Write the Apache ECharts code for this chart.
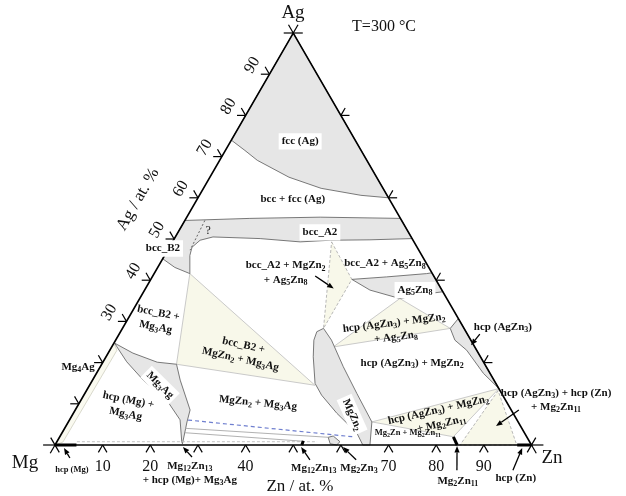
<!DOCTYPE html>
<html>
<head>
<meta charset="utf-8">
<script src="https://cdn.jsdelivr.net/npm/echarts@6/dist/echarts.min.js"></script>
<style>
  html, body { margin: 0; background: #fff; }
  #chart { width: 626px; height: 496px; }
</style>
</head>
<body>
<div id="chart"></div>
<script>
// all compositions are [Zn, Ag] in at.% (Mg = rest)

// ticks
const zTicks = [10, 20, 30, 40, 50, 60, 70, 80, 90];
const zTickLabels = [10, 20, 40, 70, 80, 90];
const agTicksLeft = [10, 20, 30, 40, 50, 60, 70, 80, 90];
const agTickLabels = [30, 40, 50, 60, 70, 80, 90];
const agTicksRight = [20, 40, 60, 80];

// single phase regions (gray)
const fccAg = [[0, 100], [0, 74], [4.1, 71.5], [7.9, 69.1], [16.6, 65.0], [24.7, 62.3], [33.9, 60.6], [40, 60]];
const bccBand = [[0, 54.5], [13.4, 55.0], [28.0, 55.3], [45, 55], [49.9, 50.1], [41.2, 49.8], [32.9, 49.7], [26.8, 49.3],
  [18.0, 50.1], [7.9, 50.5], [5.6, 49.7], [4.75, 48.0], [5.3, 46.0], [7.5, 41.6], [3.6, 43.1], [0, 45.2]];
const mg3Ag = [[0.2, 24.7], [5.2, 22.3], [11.4, 20.1], [15.7, 19.6], [18.4, 15.75], [24.1, 8.5], [24.9, 5.6], [26.6, 0.3],
  [26.2, 0.8], [23.2, 6.1], [18.0, 10.9], [10.65, 15.75], [4.95, 20.2], [1.0, 23.9]];
const mgZn2 = [[42.2, 28.3], [41.2, 27.5], [41.6, 25.45], [43.5, 21.4], [47.1, 14.95], [49.9, 12.1], [55.3, 7.7], [61.9, 2.9],
  [64.6, 0], [66.1, 0], [63.7, 5.6], [57.1, 12.5], [51.0, 19.0], [45.3, 25.45]];
const ag5Zn8 = [[42.2, 40.2], [49.2, 40.8], [57.2, 41.6], [58.2, 41.8], [62.8, 37.2], [57.7, 36.35], [54.6, 35.55], [47.3, 37.6]];
const agZn3 = [[69.3, 30.7], [68.8, 28.3], [71.2, 25.45], [74.9, 23.0], [81.2, 17.4], [86.3, 13.7]];
const mg2Zn3 = [[56.4, 1.87], [57.3, 2.18], [59.4, 0.8], [59.1, 0], [57.6, 0.3]];

// three phase triangles
const triB2Zn2Ag3 = [[7.5, 41.6], [15.7, 19.6], [47.3, 14.5]];
const triAgZn3Zn2Ag5 = [[54.6, 35.55], [46.5, 23.8], [68.8, 28.3]];
const triAgZn3Zn2Zn11 = [[86.3, 13.7], [63.7, 5.6], [82.6, 2.0]];
const triA2Zn2Ag5 = [[33.4, 49.3], [42.2, 40.2], [42.2, 28.3]];
const triAgZn3ZnZn11 = [[86.4, 13.2], [85.0, 0], [96.9, 0]];
const mg4AgStrip = [[0, 0], [0, 24.7], [1.5, 23.0], [1.3, 0.7]];

// lines
const qLine = [[4.2, 54.5], [4.7, 47.3]];
const blueLine = [[24.9, 6.06], [62.0, 1.94]];
const tieLow1 = [[25.3, 4.05], [56.4, 1.87]];
const tieLow2 = [[25.8, 2.98], [51.8, 0.9]];
const baseDash = [[4.2, 0.8], [54.6, 0.8]];
const hcpMg = [[0, 0], [4.5, 0]];
const hcpZn = [[97, 0], [100, 0]];
const mg2Zn11 = [[82.6, 2.0], [84.4, 0]];
const mg12Zn13 = [[51.8, 0], [51.6, 1.0]];

// arrows [from, to]
const arrows = [
  [[4.7, -3.15], [2.25, -0.73]],
  [[30.2, -2.9], [27.1, -0.5]],
  [[55.3, -3.6], [51.9, -0.5]],
  [[65.0, -3.6], [60.7, -0.5]],
  [[87.4, -6.1], [84.5, -0.25]],
  [[99.15, -6.1], [98.4, -0.7]],
  [[34.1, 41.0], [39.5, 38.0]],
  [[75.7, 26.9], [75.2, 24.2]],
  [[93.1, 8.5], [90.25, 4.6]]
];

// labels
const regionLabels = [
  { t: 'fcc (Ag)', at: [14.6, 73.7], box: true },
  { t: 'bcc + fcc (Ag)', at: [20.1, 59.6] },
  { t: 'bcc_A2', at: [29.8, 51.6], box: true },
  { t: 'bcc_B2', at: [-1.2, 47.7], box: true },
  { t: 'bcc_A2 + MgZn{s|2}\n+ Ag{s|5}Zn{s|8}', at: [27.5, 41.8] },
  { t: 'bcc_A2 + Ag{s|5}Zn{s|8}', at: [47.2, 44.1] },
  { t: 'Ag{s|5}Zn{s|8}', at: [56.75, 37.6], box: true },
  { t: 'hcp (AgZn{s|3}) + MgZn{s|2}\n+ Ag{s|5}Zn{s|8}', at: [57.4, 27.9], rot: 0.12 },
  { t: 'hcp (AgZn{s|3}) + MgZn{s|2}', at: [65.0, 19.9] },
  { t: 'hcp (AgZn{s|3})', at: [79.7, 28.6] },
  { t: 'hcp (AgZn{s|3}) + hcp (Zn)\n+ Mg{s|2}Zn{s|11}', at: [99.7, 10.9] },
  { t: 'hcp (AgZn{s|3}) + MgZn{s|2}\n+ Mg{s|2}Zn{s|11}', at: [77.4, 6.8], rot: 0.22 },
  { t: 'Mg{s|2}Zn + Mg{s|2}Zn{s|11}', at: [72.6, 2.9], size: 8.5 },
  { t: 'MgZn{s|2}', at: [58.7, 7.3], rot: -1.15, box: true },
  { t: 'Mg{s|3}Ag', at: [14.8, 14.5], rot: -0.78, box: true },
  { t: 'bcc_B2 +\nMg{s|3}Ag', at: [6.25, 30.3], rot: -0.2 },
  { t: 'bcc_B2 +\nMgZn{s|2} + Mg{s|3}Ag', at: [28.0, 22.5], rot: -0.22 },
  { t: 'MgZn{s|2} + Mg{s|3}Ag', at: [37.5, 10.2], rot: -0.1 },
  { t: 'hcp (Mg) +\nMg{s|3}Ag', at: [10.5, 9.2], rot: -0.2 },
  { t: 'Mg{s|4}Ag', at: [-4.6, 18.9] },
  { t: 'hcp (Mg)', at: [6.6, -6.1], size: 8.5 },
  { t: 'Mg{s|12}Zn{s|13}\n+ hcp (Mg)+ Mg{s|3}Ag', at: [31.7, -6.8] },
  { t: 'Mg{s|12}Zn{s|13}', at: [57.1, -5.6] },
  { t: 'Mg{s|2}Zn{s|3}', at: [66.6, -5.6] },
  { t: 'Mg{s|2}Zn{s|11}', at: [88.9, -8.7] },
  { t: 'hcp (Zn)', at: [100.7, -8.0] },
  { t: '?', at: [6.2, 51.9], plain: true, size: 12 }
];

const titles = [
  { t: 'Ag', at: [-2.5, 104.9], size: 19 },
  { t: 'Mg', at: [-4.1, -4.4], size: 19 },
  { t: 'Zn', at: [105.9, -3.2], size: 19 },
  { t: 'T=300 °C', at: [11.6, 101.5], size: 16, align: 'left' },
  { t: 'Zn / at. %', at: [56.5, -10.2], size: 17 },
  { t: 'Ag / at. %', at: [-12.4, 59.6], size: 17, rot: Math.PI / 3 }
];

const SERIF = '"Liberation Serif", "Times New Roman", serif';
const toXY = p => [p[0] + p[1] / 2, p[1]];

const chart = echarts.init(document.getElementById('chart'), null, { renderer: 'canvas' });

function base(data, z, render) {
  return {
    type: 'custom', coordinateSystem: 'cartesian2d', clip: false, silent: true, z: z,
    animation: false, data: data, renderItem: render
  };
}

function polygons(list, style, z) {
  return base(list.map(p => toXY(p[0])), z, (params, api) => ({
    type: 'polygon',
    shape: { points: list[params.dataIndex].map(p => api.coord(toXY(p))) },
    style: style
  }));
}

function polylines(list, style, z) {
  return base(list.map(p => toXY(p[0])), z, (params, api) => ({
    type: 'polyline',
    shape: { points: list[params.dataIndex].map(p => api.coord(toXY(p))) },
    style: Object.assign({ fill: null }, style)
  }));
}

// tick segments from the tick arrays
const tickSegs = [];
zTicks.forEach(z => { tickSegs.push([[z, 0], [z, -1.8]], [[z, 0], [z + 1.8, -1.8]]); });
agTicksLeft.forEach(a => { tickSegs.push([[0, a], [-1.8, a]], [[0, a], [-1.8, a + 1.8]]); });
agTicksRight.forEach(a => { tickSegs.push([[100 - a, a], [101.8 - a, a]], [[100 - a, a], [100 - a, a + 1.8]]); });
tickSegs.push([[-2.5, 0], [0, 0]], [[0, 0], [0, -2]], [[-1.8, 1.8], [1.8, -1.8]]);
tickSegs.push([[100, 0], [102.5, 0]], [[100, 0], [102, -2]], [[100, 1.8], [100, -1.8]]);
tickSegs.push([[-2, 100], [2, 100]], [[0, 100], [0, 102]], [[0, 100], [-2, 102]]);

const RICH = size => ({
  s: { font: 'bold ' + Math.round(size * 0.72) + 'px ' + SERIF, verticalAlign: 'bottom', lineHeight: size * 0.7 }
});

function textSeries(list, z) {
  return base(list.map(l => toXY(l.at)), z, (params, api) => {
    const l = list[params.dataIndex];
    const size = l.size || 11;
    const c = api.coord(toXY(l.at));
    return {
      type: 'text', x: c[0], y: c[1], rotation: l.rot || 0,
      style: {
        text: l.t, font: (l.plain ? '' : 'bold ') + size + 'px ' + SERIF, fill: '#111',
        align: 'center', verticalAlign: 'middle', lineHeight: size * 1.3, rich: RICH(size),
        backgroundColor: l.box ? '#fff' : null, padding: l.box ? [1, 3, 1, 3] : 0
      }
    };
  });
}

function titleSeries(list, z) {
  return base(list.map(l => toXY(l.at)), z, (params, api) => {
    const l = list[params.dataIndex];
    const c = api.coord(toXY(l.at));
    return {
      type: 'text', x: c[0], y: c[1], rotation: l.rot || 0,
      style: { text: l.t, font: l.size + 'px ' + SERIF, fill: '#111', align: l.align || 'center', verticalAlign: 'middle' }
    };
  });
}

const zTickSeries = base(zTickLabels.map(v => toXY([v, 0])), 12, (params, api) => {
  const c = api.coord(toXY([zTickLabels[params.dataIndex], 0]));
  return { type: 'text', x: c[0], y: c[1] + 22, style: { text: String(zTickLabels[params.dataIndex]), font: '16px ' + SERIF, fill: '#111', align: 'center', verticalAlign: 'middle' } };
});
const agTickSeries = base(agTickLabels.map(v => toXY([0, v])), 12, (params, api) => {
  const c = api.coord(toXY([0, agTickLabels[params.dataIndex]]));
  return { type: 'text', x: c[0] - 17, y: c[1] - 9, rotation: Math.PI / 3, style: { text: String(agTickLabels[params.dataIndex]), font: '16px ' + SERIF, fill: '#111', align: 'center', verticalAlign: 'middle' } };
});

const arrowSeries = base(arrows.map(a => toXY(a[1])), 11, (params, api) => {
  const a = arrows[params.dataIndex];
  const p0 = api.coord(toXY(a[0])), p1 = api.coord(toXY(a[1]));
  const dx = p1[0] - p0[0], dy = p1[1] - p0[1], L = Math.hypot(dx, dy);
  const ux = dx / L, uy = dy / L, hl = 6.5, hw = 2.6;
  const b = [p1[0] - ux * hl, p1[1] - uy * hl];
  return {
    type: 'group', children: [
      { type: 'line', shape: { x1: p0[0], y1: p0[1], x2: b[0], y2: b[1] }, style: { stroke: '#000', lineWidth: 1.3 } },
      { type: 'polygon', shape: { points: [p1, [b[0] - uy * hw, b[1] + ux * hw], [b[0] + uy * hw, b[1] - ux * hw]] }, style: { fill: '#000' } }
    ]
  };
});

const GRAY = { fill: '#e6e6e6', stroke: '#6a6a6a', lineWidth: 0.9 };
const YEL = { fill: '#f8f8ea', stroke: '#c4c4c4', lineWidth: 0.9 };
const YEL_DASH = { fill: '#f8f8ea', stroke: '#b0b0b0', lineWidth: 0.9, lineDash: [3, 2] };

const option = {
  backgroundColor: '#fff',
  animation: false,
  grid: { left: 55, right: 94.5, top: 33, bottom: 51 },
  xAxis: { type: 'value', min: 0, max: 100, show: false },
  yAxis: { type: 'value', min: 0, max: 100, show: false },
  series: [
    polygons([mg4AgStrip], { fill: '#fafaf0', stroke: '#cfcfc0', lineWidth: 0.8 }, 1),
    polygons([triB2Zn2Ag3, triAgZn3Zn2Ag5, triAgZn3Zn2Zn11], YEL, 2),
    polygons([triA2Zn2Ag5, triAgZn3ZnZn11], YEL_DASH, 2),
    polygons([fccAg, bccBand, mg3Ag, mgZn2, ag5Zn8, agZn3, mg2Zn3], GRAY, 3),
    polylines([baseDash], { stroke: '#bdbdbd', lineWidth: 0.9, lineDash: [3, 2] }, 4),
    polylines([tieLow1, tieLow2], { stroke: '#a8a8a8', lineWidth: 0.9 }, 4),
    polylines([blueLine], { stroke: '#6f7fcf', lineWidth: 1.2, lineDash: [4, 3] }, 4),
    polylines([qLine], { stroke: '#555', lineWidth: 0.9, lineDash: [2, 2] }, 4),
    polylines([[[0, 0], [100, 0], [0, 100], [0, 0]]], { stroke: '#000', lineWidth: 1.6 }, 6),
    polylines(tickSegs, { stroke: '#000', lineWidth: 1.2 }, 6),
    polylines([hcpMg, hcpZn, mg2Zn11, mg12Zn13], { stroke: '#000', lineWidth: 3 }, 7),
    arrowSeries,
    zTickSeries,
    agTickSeries,
    textSeries(regionLabels, 13),
    titleSeries(titles, 13)
  ]
};

chart.setOption(option);
window.addEventListener('resize', () => { chart.resize(); });
</script>
</body>
</html>
